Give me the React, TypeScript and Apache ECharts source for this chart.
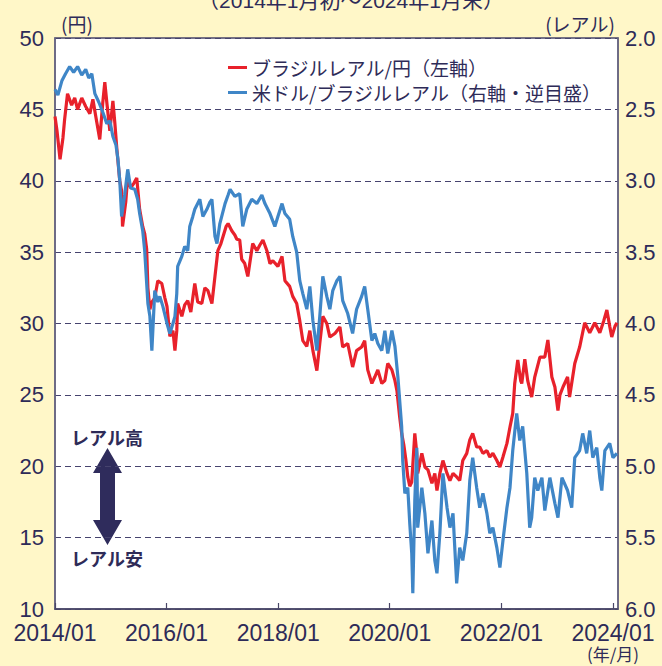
import React, { useEffect, useRef } from "react";
import * as echarts from "echarts";

// ブラジルレアル/円 (left axis)
const brlJpy: [string, number][] = [
  ["2014-01-01", 44.5], ["2014-01-14", 43.5], ["2014-02-03", 41.5], ["2014-02-22", 43.0], ["2014-03-05", 44.3],
  ["2014-03-24", 46.1], ["2014-04-20", 45.3], ["2014-05-10", 45.8], ["2014-05-29", 45.0], ["2014-06-25", 45.8],
  ["2014-07-21", 45.2], ["2014-08-17", 44.7], ["2014-09-06", 45.7], ["2014-09-25", 44.5], ["2014-10-21", 42.9],
  ["2014-11-10", 45.5], ["2014-11-23", 46.9], ["2014-12-06", 45.5], ["2014-12-26", 43.5], ["2015-01-15", 45.6],
  ["2015-01-28", 44.0], ["2015-02-10", 42.2], ["2015-03-01", 40.0], ["2015-03-13", 39.3], ["2015-03-19", 36.8],
  ["2015-04-09", 38.5], ["2015-04-22", 40.3], ["2015-05-11", 39.5], ["2015-05-31", 39.8], ["2015-06-20", 40.2],
  ["2015-07-09", 38.0], ["2015-07-29", 36.8], ["2015-08-11", 36.3], ["2015-08-24", 35.2], ["2015-09-01", 32.5],
  ["2015-09-14", 31.0], ["2015-09-27", 31.5], ["2015-10-16", 31.8], ["2015-11-05", 33.0], ["2015-12-01", 32.8],
  ["2015-12-21", 31.8], ["2016-01-04", 31.2], ["2016-01-23", 29.1], ["2016-02-12", 29.5], ["2016-02-25", 28.1],
  ["2016-03-08", 29.5], ["2016-03-14", 31.4], ["2016-04-10", 30.5], ["2016-04-29", 31.3], ["2016-05-19", 31.6],
  ["2016-06-08", 30.8], ["2016-07-04", 32.8], ["2016-07-23", 31.5], ["2016-08-19", 31.4], ["2016-09-08", 32.5],
  ["2016-09-28", 32.3], ["2016-10-24", 31.4], ["2016-11-13", 33.3], ["2016-12-02", 35.1], ["2016-12-22", 35.6],
  ["2017-01-05", 36.1], ["2017-01-25", 36.8], ["2017-02-07", 37.0], ["2017-03-03", 36.5], ["2017-03-23", 36.2],
  ["2017-04-05", 35.9], ["2017-04-24", 35.85], ["2017-05-07", 34.5], ["2017-05-27", 34.2], ["2017-06-16", 33.3],
  ["2017-07-18", 35.6], ["2017-08-14", 35.1], ["2017-09-03", 35.5], ["2017-09-23", 35.85], ["2017-10-19", 35.1],
  ["2017-11-08", 34.2], ["2017-11-27", 34.4], ["2017-12-30", 34.0], ["2018-01-26", 34.7], ["2018-02-14", 33.0],
  ["2018-03-17", 32.6], ["2018-04-06", 31.9], ["2018-05-02", 31.4], ["2018-05-22", 30.2], ["2018-06-11", 28.8],
  ["2018-07-07", 28.4], ["2018-07-27", 29.5], ["2018-08-16", 28.1], ["2018-09-11", 26.7], ["2018-09-30", 28.6],
  ["2018-10-20", 30.5], ["2018-11-15", 30.0], ["2018-12-05", 29.05], ["2019-01-07", 29.3], ["2019-02-09", 29.75],
  ["2019-02-27", 28.35], ["2019-04-01", 28.6], ["2019-05-03", 26.95], ["2019-05-29", 28.1], ["2019-07-01", 28.35],
  ["2019-07-21", 28.8], ["2019-08-10", 26.75], ["2019-09-06", 25.8], ["2019-09-25", 26.25], ["2019-10-15", 26.75],
  ["2019-11-10", 25.8], ["2019-11-30", 26.0], ["2019-12-19", 27.2], ["2020-01-15", 26.75], ["2020-02-04", 26.0],
  ["2020-02-17", 25.3], ["2020-03-06", 23.45], ["2020-03-19", 22.3], ["2020-04-02", 21.5], ["2020-04-15", 20.5],
  ["2020-04-28", 19.25], ["2020-05-11", 18.6], ["2020-05-24", 18.9], ["2020-06-13", 22.3], ["2020-06-26", 20.9],
  ["2020-07-02", 19.5], ["2020-07-29", 20.9], ["2020-08-18", 19.95], ["2020-09-07", 19.75], ["2020-10-03", 18.8],
  ["2020-10-22", 19.5], ["2020-11-05", 18.3], ["2020-11-24", 19.5], ["2020-12-14", 20.4], ["2021-01-10", 19.5],
  ["2021-01-29", 19.0], ["2021-02-18", 19.5], ["2021-03-14", 19.25], ["2021-04-03", 19.0], ["2021-04-23", 20.4],
  ["2021-05-19", 20.9], ["2021-06-08", 21.85], ["2021-06-27", 22.3], ["2021-07-23", 21.35], ["2021-08-12", 21.35],
  ["2021-09-02", 20.9], ["2021-09-28", 21.1], ["2021-10-17", 20.65], ["2021-11-06", 20.9], ["2021-12-02", 20.4],
  ["2021-12-22", 19.95], ["2022-01-11", 20.65], ["2022-02-06", 21.6], ["2022-02-26", 22.75], ["2022-03-16", 23.7],
  ["2022-03-29", 25.8], ["2022-04-18", 27.45], ["2022-05-07", 26.0], ["2022-05-14", 25.8], ["2022-06-03", 27.5],
  ["2022-06-22", 26.0], ["2022-07-18", 24.85], ["2022-08-07", 26.25], ["2022-09-10", 27.65], ["2022-10-12", 27.65],
  ["2022-11-01", 28.85], ["2022-11-27", 26.25], ["2022-12-17", 25.55], ["2023-01-06", 23.9], ["2023-01-19", 25.0],
  ["2023-02-08", 25.55], ["2023-03-10", 26.25], ["2023-03-23", 24.85], ["2023-04-26", 27.2], ["2023-05-28", 28.35],
  ["2023-06-30", 30.05], ["2023-08-02", 29.35], ["2023-09-04", 30.05], ["2023-10-07", 29.35], ["2023-11-02", 30.2],
  ["2023-11-22", 30.95], ["2023-12-11", 29.8], ["2023-12-24", 29.05], ["2024-01-14", 29.8], ["2024-01-27", 30.05],
];

// 米ドル/ブラジルレアル (right axis, inverted)
const usdBrl: [string, number][] = [
  ["2014-01-01", 2.36], ["2014-01-20", 2.40], ["2014-02-15", 2.30], ["2014-03-11", 2.25], ["2014-04-07", 2.20],
  ["2014-05-03", 2.24], ["2014-05-29", 2.20], ["2014-06-25", 2.26], ["2014-07-21", 2.22], ["2014-08-10", 2.28],
  ["2014-08-30", 2.25], ["2014-09-19", 2.39], ["2014-10-15", 2.45], ["2014-11-10", 2.52], ["2014-12-06", 2.60],
  ["2014-12-26", 2.58], ["2015-01-15", 2.69], ["2015-02-04", 2.75], ["2015-02-17", 2.85], ["2015-03-01", 3.0],
  ["2015-03-13", 3.25], ["2015-04-02", 3.10], ["2015-04-22", 2.92], ["2015-05-11", 3.05], ["2015-06-07", 3.06],
  ["2015-06-26", 3.13], ["2015-07-09", 3.23], ["2015-07-29", 3.35], ["2015-08-11", 3.49], ["2015-09-01", 3.86],
  ["2015-09-14", 3.95], ["2015-09-27", 4.19], ["2015-10-16", 3.77], ["2015-11-05", 3.85], ["2015-11-18", 3.81],
  ["2015-12-08", 3.88], ["2016-01-04", 4.0], ["2016-01-23", 4.07], ["2016-02-12", 4.0], ["2016-02-25", 3.95],
  ["2016-03-08", 3.79], ["2016-03-14", 3.6], ["2016-04-10", 3.53], ["2016-04-29", 3.46], ["2016-05-19", 3.49],
  ["2016-06-01", 3.32], ["2016-06-21", 3.25], ["2016-07-04", 3.2], ["2016-08-06", 3.13], ["2016-08-26", 3.25],
  ["2016-09-21", 3.2], ["2016-10-11", 3.15], ["2016-10-24", 3.13], ["2016-11-13", 3.39], ["2016-11-26", 3.44],
  ["2016-12-15", 3.3], ["2017-01-18", 3.16], ["2017-02-07", 3.10], ["2017-02-20", 3.06], ["2017-03-23", 3.11],
  ["2017-04-24", 3.09], ["2017-05-14", 3.32], ["2017-06-09", 3.2], ["2017-07-12", 3.13], ["2017-08-14", 3.16],
  ["2017-09-16", 3.1], ["2017-10-06", 3.16], ["2017-11-08", 3.23], ["2017-12-10", 3.32], ["2017-12-30", 3.25],
  ["2018-01-26", 3.16], ["2018-02-14", 3.23], ["2018-03-17", 3.27], ["2018-04-06", 3.39], ["2018-05-02", 3.5],
  ["2018-05-22", 3.7], ["2018-06-11", 3.79], ["2018-07-07", 3.9], ["2018-07-27", 3.74], ["2018-08-16", 3.98],
  ["2018-09-11", 4.19], ["2018-09-30", 3.95], ["2018-10-20", 3.67], ["2018-11-15", 3.81], ["2018-12-05", 3.9],
  ["2018-12-24", 3.77], ["2019-01-20", 3.70], ["2019-02-09", 3.67], ["2019-02-27", 3.84], ["2019-04-01", 3.93],
  ["2019-05-03", 4.07], ["2019-05-29", 3.9], ["2019-07-01", 3.81], ["2019-07-21", 3.74], ["2019-08-10", 3.9],
  ["2019-09-06", 4.12], ["2019-09-25", 4.07], ["2019-10-15", 4.14], ["2019-11-10", 4.19], ["2019-11-30", 4.05],
  ["2019-12-19", 4.21], ["2020-01-15", 4.05], ["2020-02-04", 4.16], ["2020-02-23", 4.37], ["2020-03-19", 4.72],
  ["2020-03-26", 4.96], ["2020-04-09", 5.19], ["2020-04-28", 5.15], ["2020-05-11", 5.4], ["2020-05-24", 5.61],
  ["2020-05-31", 5.89], ["2020-06-13", 5.24], ["2020-06-26", 4.87], ["2020-07-02", 5.43], ["2020-07-29", 5.15],
  ["2020-08-18", 5.33], ["2020-09-07", 5.61], ["2020-10-03", 5.38], ["2020-10-22", 5.66], ["2020-11-05", 5.75],
  ["2020-11-24", 5.47], ["2020-12-14", 5.05], ["2021-01-10", 5.29], ["2021-01-29", 5.43], ["2021-02-18", 5.33],
  ["2021-03-14", 5.82], ["2021-04-03", 5.57], ["2021-04-23", 5.66], ["2021-05-19", 5.47], ["2021-06-08", 5.1],
  ["2021-06-27", 4.94], ["2021-07-23", 5.15], ["2021-08-12", 5.29], ["2021-09-02", 5.19], ["2021-09-28", 5.33],
  ["2021-10-17", 5.47], ["2021-11-06", 5.43], ["2021-12-02", 5.57], ["2021-12-22", 5.71], ["2022-01-11", 5.52],
  ["2022-02-06", 5.29], ["2022-02-26", 5.15], ["2022-03-16", 4.89], ["2022-04-11", 4.63], ["2022-05-01", 4.82],
  ["2022-05-20", 4.72], ["2022-06-16", 5.05], ["2022-07-05", 5.43], ["2022-07-18", 5.36], ["2022-08-07", 5.08],
  ["2022-08-27", 5.17], ["2022-09-23", 5.08], ["2022-10-12", 5.31], ["2022-11-14", 5.08], ["2022-12-17", 5.26],
  ["2023-01-06", 5.36], ["2023-02-01", 5.08], ["2023-03-10", 5.17], ["2023-04-06", 5.29], ["2023-04-26", 4.94],
  ["2023-05-28", 4.89], ["2023-06-17", 4.77], ["2023-07-13", 4.91], ["2023-08-02", 4.75], ["2023-08-22", 4.94],
  ["2023-09-17", 4.87], ["2023-10-07", 5.08], ["2023-10-20", 5.17], ["2023-11-09", 4.89], ["2023-12-11", 4.84],
  ["2024-01-01", 4.94], ["2024-01-27", 4.91],
];

const tickYears = [2014, 2016, 2018, 2020, 2022, 2024];
const seriesNames = ["ブラジルレアル/円（左軸）", "米ドル/ブラジルレアル（右軸・逆目盛）"];
const titleText = "（2014年1月初～2024年1月末）";

const NAVY = "#2e2b58";
const NUM_FONT = "'Liberation Sans', Arial, sans-serif";
const JP_FONT = "'Noto Sans CJK JP', sans-serif";
const MIX_FONT = "'Liberation Sans', 'Noto Sans CJK JP', sans-serif";

const toTs = (s: string) => {
  const [y, m, d] = s.split("-").map(Number);
  return new Date(y, m - 1, d).getTime();
};

export default function App() {
  const ref = useRef<HTMLDivElement>(null);

  useEffect(() => {
    document.body.style.margin = "0";
    if (!ref.current) return;
    const chart = echarts.init(ref.current, undefined, { renderer: "svg" });
    const tickTs = tickYears.map((y) => new Date(y, 0, 1).getTime());

    chart.setOption({
      animation: false,
      backgroundColor: "#fff7c8",
      grid: {
        left: 55,
        right: 44,
        top: 38,
        bottom: 57,
        show: true,
        backgroundColor: "#ffffff",
        borderColor: "#4a4768",
        borderWidth: 1.5,
      },
      legend: {
        orient: "vertical",
        left: 223,
        top: 53,
        icon: "rect",
        itemWidth: 19,
        itemHeight: 3,
        itemGap: 6,
        data: seriesNames,
        textStyle: { fontSize: 19, lineHeight: 18, color: NAVY, fontFamily: JP_FONT },
      },
      xAxis: {
        type: "value",
        min: new Date(2014, 0, 1).getTime(),
        max: new Date(2024, 1, 3).getTime(),
        axisLine: { show: true, lineStyle: { color: "#4a4768", width: 1.5 } },
        axisTick: {
          show: true,
          inside: true,
          length: 6,
          customValues: tickTs,
          lineStyle: { color: "#4a4768", width: 1.2 },
        },
        axisLabel: {
          customValues: tickTs,
          formatter: (v: number) => `${new Date(v).getFullYear()}/01`,
          fontSize: 23,
          lineHeight: 19,
          color: NAVY,
          fontFamily: NUM_FONT,
          margin: 14,
        },
        splitLine: { show: false },
      },
      yAxis: [
        {
          type: "value",
          position: "left",
          min: 10,
          max: 50,
          interval: 5,
          axisLine: { show: true, lineStyle: { color: "#6d6a86", width: 1.5 } },
          axisTick: { show: false },
          axisLabel: { fontSize: 22, lineHeight: 18, color: NAVY, fontFamily: NUM_FONT, margin: 11 },
          splitLine: { show: true, lineStyle: { color: "#46436e", type: [6, 4], width: 1 } },
        },
        {
          type: "value",
          position: "right",
          min: 2,
          max: 6,
          interval: 0.5,
          inverse: true,
          axisLine: { show: true, lineStyle: { color: "#6d6a86", width: 1.5 } },
          axisTick: { show: false },
          axisLabel: {
            fontSize: 22,
            lineHeight: 18,
            color: NAVY,
            fontFamily: NUM_FONT,
            margin: 7,
            formatter: (v: number) => v.toFixed(1),
          },
          splitLine: { show: false },
        },
      ],
      series: [
        {
          name: seriesNames[0],
          type: "line",
          yAxisIndex: 0,
          data: brlJpy.map(([d, v]) => [toTs(d), v]),
          showSymbol: false,
          color: "#e8212b",
          lineStyle: { width: 3.2, color: "#e8212b" },
          z: 2,
        },
        {
          name: seriesNames[1],
          type: "line",
          yAxisIndex: 1,
          data: usdBrl.map(([d, v]) => [toTs(d), v]),
          showSymbol: false,
          color: "#3f86c7",
          lineStyle: { width: 3.2, color: "#3f86c7" },
          z: 3,
        },
      ],
      graphic: [
        {
          type: "text",
          x: 351,
          y: 0,
          style: {
            text: titleText,
            fontSize: 21,
            fill: NAVY,
            fontFamily: MIX_FONT,
            align: "center",
            verticalAlign: "middle",
          },
        },
        {
          type: "text",
          x: 77,
          y: 23,
          style: { text: "(円)", fontSize: 19, fill: NAVY, fontFamily: JP_FONT, align: "center", verticalAlign: "middle" },
        },
        {
          type: "text",
          x: 580,
          y: 23,
          style: { text: "(レアル)", fontSize: 19, fill: NAVY, fontFamily: JP_FONT, align: "center", verticalAlign: "middle" },
        },
        {
          type: "text",
          x: 613,
          y: 653,
          style: { text: "(年/月)", fontSize: 17, lineHeight: 17, fill: NAVY, fontFamily: JP_FONT, align: "center", verticalAlign: "middle" },
        },
        {
          type: "text",
          x: 107,
          y: 437,
          style: { text: "レアル高", fontSize: 18, fontWeight: "bold", fill: NAVY, fontFamily: JP_FONT, align: "center", verticalAlign: "middle" },
        },
        {
          type: "text",
          x: 107,
          y: 558,
          style: { text: "レアル安", fontSize: 18, fontWeight: "bold", fill: NAVY, fontFamily: JP_FONT, align: "center", verticalAlign: "middle" },
        },
        {
          type: "polygon",
          shape: {
            points: [
              [107.5, 448], [122, 473], [115, 473], [115, 520], [122, 520],
              [107.5, 545], [93, 520], [100, 520], [100, 473], [93, 473],
            ],
          },
          style: { fill: "#2f2c5c" },
        },
      ],
    });

    return () => chart.dispose();
  }, []);

  return <div ref={ref} style={{ width: 662, height: 666 }} />;
}
